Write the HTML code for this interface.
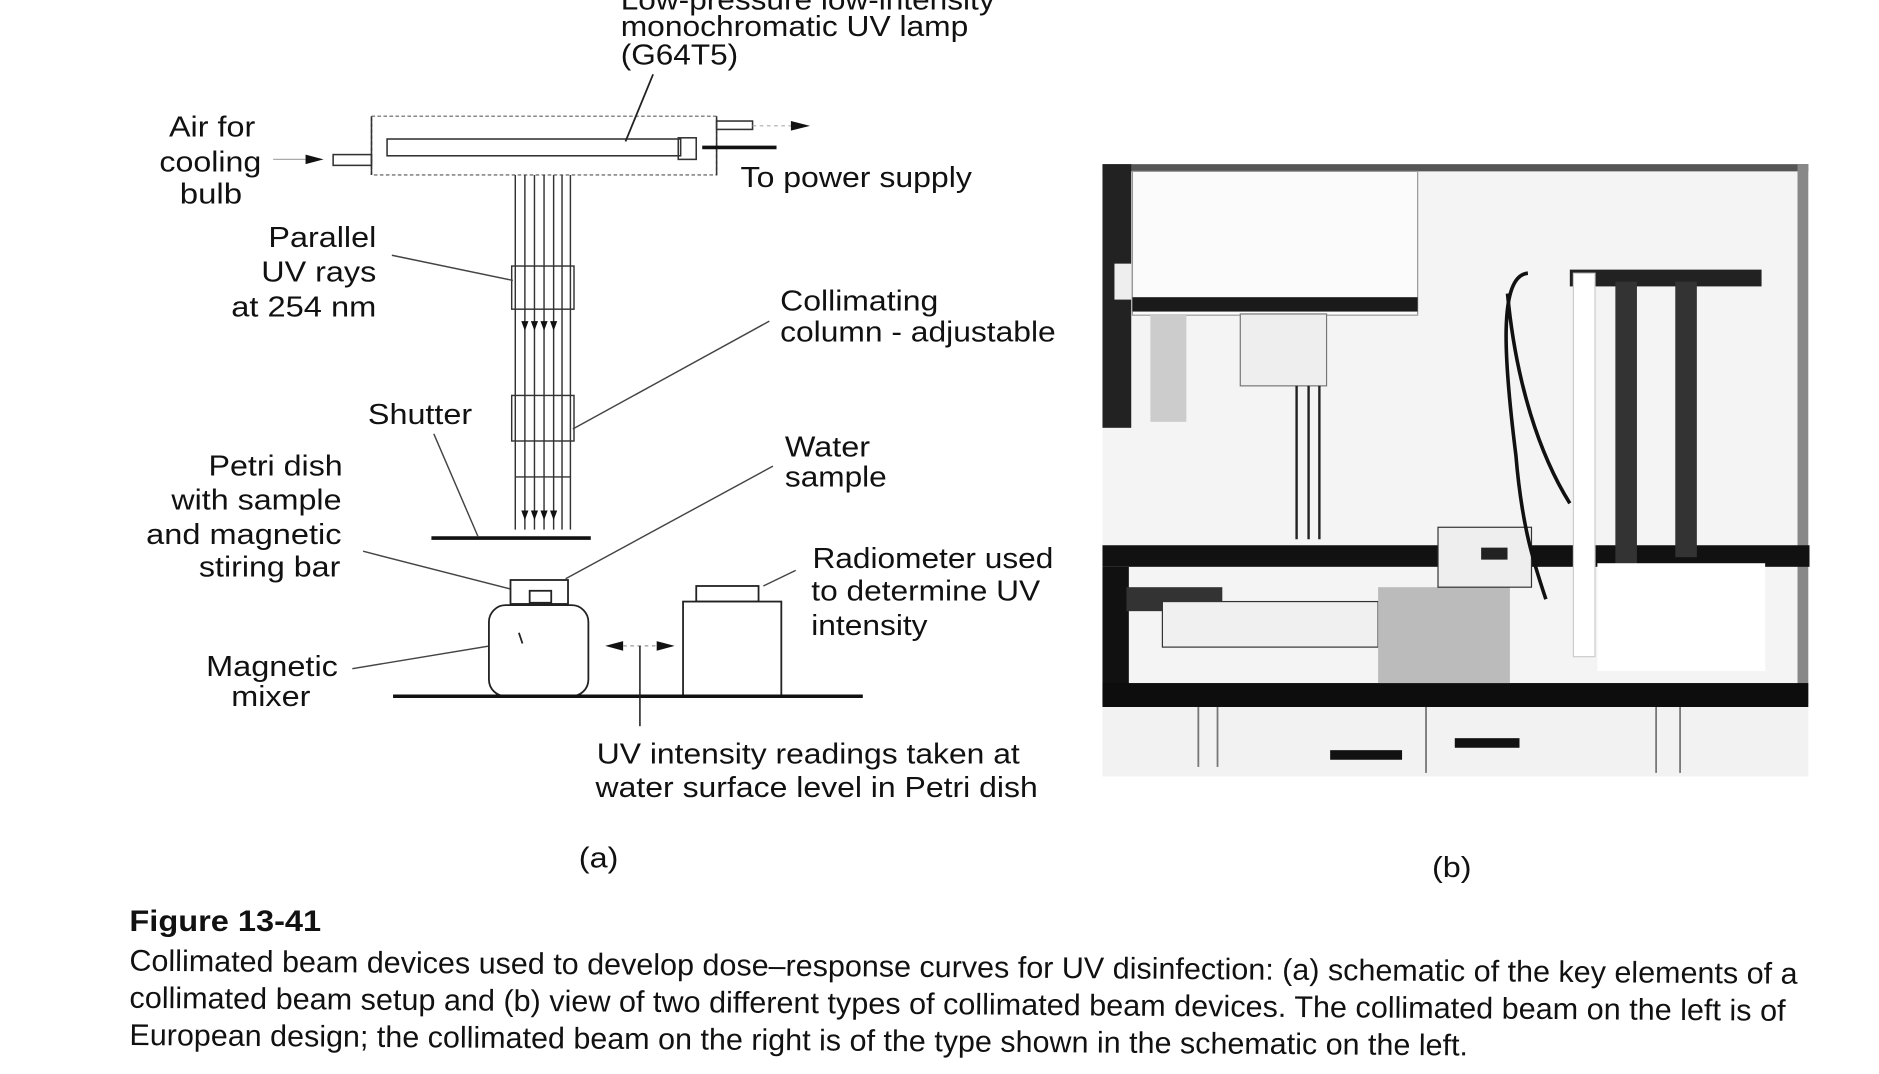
<!DOCTYPE html>
<html><head><meta charset="utf-8"><style>
html,body{margin:0;padding:0;background:#fff;}
svg{display:block;}
text{font-family:"Liberation Sans",sans-serif;fill:#111;}
</style></head><body>
<svg width="1879" height="1074" viewBox="0 0 1568 896" preserveAspectRatio="xMinYMin meet" xmlns="http://www.w3.org/2000/svg">
<g font-size="24">
<text x="518" y="8" textLength="312" lengthAdjust="spacingAndGlyphs">Low-pressure low-intensity</text>
<text x="518" y="30" textLength="290" lengthAdjust="spacingAndGlyphs">monochromatic UV lamp</text>
<text x="518" y="54" textLength="98" lengthAdjust="spacingAndGlyphs">(G64T5)</text>
<text x="141" y="114" textLength="72" lengthAdjust="spacingAndGlyphs">Air for</text>
<text x="133" y="143" textLength="85" lengthAdjust="spacingAndGlyphs">cooling</text>
<text x="150" y="170" textLength="52" lengthAdjust="spacingAndGlyphs">bulb</text>
<text x="618" y="156" textLength="193" lengthAdjust="spacingAndGlyphs">To power supply</text>
<text x="224" y="206" textLength="90" lengthAdjust="spacingAndGlyphs">Parallel</text>
<text x="218" y="235" textLength="96" lengthAdjust="spacingAndGlyphs">UV rays</text>
<text x="193" y="264" textLength="121" lengthAdjust="spacingAndGlyphs">at 254 nm</text>
<text x="651" y="259" textLength="132" lengthAdjust="spacingAndGlyphs">Collimating</text>
<text x="651" y="285" textLength="230" lengthAdjust="spacingAndGlyphs">column - adjustable</text>
<text x="307" y="354" textLength="87" lengthAdjust="spacingAndGlyphs">Shutter</text>
<text x="655" y="381" textLength="71" lengthAdjust="spacingAndGlyphs">Water</text>
<text x="655" y="406" textLength="85" lengthAdjust="spacingAndGlyphs">sample</text>
<text x="174" y="397" textLength="112" lengthAdjust="spacingAndGlyphs">Petri dish</text>
<text x="143" y="425" textLength="142" lengthAdjust="spacingAndGlyphs">with sample</text>
<text x="122" y="454" textLength="163" lengthAdjust="spacingAndGlyphs">and magnetic</text>
<text x="166" y="481" textLength="118" lengthAdjust="spacingAndGlyphs">stiring bar</text>
<text x="678" y="474" textLength="201" lengthAdjust="spacingAndGlyphs">Radiometer used</text>
<text x="677" y="501" textLength="191" lengthAdjust="spacingAndGlyphs">to determine UV</text>
<text x="677" y="530" textLength="97" lengthAdjust="spacingAndGlyphs">intensity</text>
<text x="172" y="564" textLength="110" lengthAdjust="spacingAndGlyphs">Magnetic</text>
<text x="193" y="589" textLength="66" lengthAdjust="spacingAndGlyphs">mixer</text>
<text x="498" y="637" textLength="353" lengthAdjust="spacingAndGlyphs">UV intensity readings taken at</text>
<text x="497" y="665" textLength="369" lengthAdjust="spacingAndGlyphs">water surface level in Petri dish</text>
<text x="483" y="724" textLength="33" lengthAdjust="spacingAndGlyphs">(a)</text>
<text x="1195" y="732" textLength="33" lengthAdjust="spacingAndGlyphs">(b)</text>
</g>
<g fill="none" stroke="#333" stroke-width="1.3">
<rect x="310" y="97" width="288" height="49" stroke="#888" stroke-dasharray="3 2"/>
<rect x="323" y="116" width="245" height="14"/>
<rect x="566" y="115" width="15" height="18"/>
<rect x="278" y="129" width="32" height="9"/>
<rect x="598" y="101" width="30" height="7"/>
<line x1="310" y1="97" x2="310" y2="146"/>
<line x1="598" y1="97" x2="598" y2="146"/>
</g>
<line x1="586" y1="123" x2="648" y2="123" stroke="#111" stroke-width="3"/>
<line x1="228" y1="133" x2="258" y2="133" stroke="#aaa" stroke-width="1"/>
<polygon points="255,129 270,133 255,137" fill="#111"/>
<line x1="628" y1="105" x2="660" y2="105" stroke="#aaa" stroke-width="1" stroke-dasharray="3 3"/>
<polygon points="660,101 676,105 660,109" fill="#111"/>
<line x1="545" y1="62" x2="522" y2="118" stroke="#222" stroke-width="1.5"/>
<g stroke="#333" stroke-width="1.2" fill="none">
<line x1="430" y1="146" x2="430" y2="442"/><line x1="476" y1="146" x2="476" y2="442"/>
<line x1="438" y1="146" x2="438" y2="442"/><line x1="446" y1="146" x2="446" y2="442"/>
<line x1="454" y1="146" x2="454" y2="442"/><line x1="462" y1="146" x2="462" y2="442"/>
<line x1="469" y1="146" x2="469" y2="442"/>
<rect x="427" y="222" width="52" height="36"/>
<rect x="427" y="330" width="52" height="38"/>
<line x1="430" y1="398" x2="476" y2="398"/>
</g>
<g fill="#111">
<polygon points="435,268 441,268 438,276"/><polygon points="443,268 449,268 446,276"/><polygon points="451,268 457,268 454,276"/><polygon points="459,268 465,268 462,276"/>
<polygon points="435,426 441,426 438,434"/><polygon points="443,426 449,426 446,434"/><polygon points="451,426 457,426 454,434"/><polygon points="459,426 465,426 462,434"/>
</g>
<line x1="360" y1="449" x2="493" y2="449" stroke="#111" stroke-width="3"/>
<g stroke="#444" stroke-width="1.2" fill="none">
<line x1="327" y1="213" x2="428" y2="234"/>
<line x1="642" y1="268" x2="478" y2="358"/>
<line x1="362" y1="362" x2="399" y2="448"/>
<line x1="645" y1="389" x2="472" y2="483"/>
<line x1="303" y1="460" x2="428" y2="492"/>
<line x1="294" y1="558" x2="433" y2="535"/>
<line x1="664" y1="476" x2="637" y2="489"/>
</g>
<g stroke="#222" stroke-width="1.5" fill="#fff">
<rect x="426" y="484" width="48" height="20"/>
<rect x="442" y="493" width="18" height="10"/>
<rect x="408" y="505" width="83" height="76" rx="14"/>
<rect x="581" y="489" width="52" height="13"/>
<rect x="570" y="502" width="82" height="79"/>
</g>
<line x1="433" y1="528" x2="436" y2="537" stroke="#222" stroke-width="1.5"/>
<line x1="328" y1="581" x2="720" y2="581" stroke="#111" stroke-width="3"/>
<polygon points="505,539 520,535 520,543" fill="#111"/>
<polygon points="563,539 548,535 548,543" fill="#111"/>
<line x1="520" y1="539" x2="548" y2="539" stroke="#999" stroke-dasharray="3 3"/>
<line x1="534" y1="539" x2="534" y2="606" stroke="#222" stroke-width="1.3"/>
<g>
<rect x="920" y="137" width="589" height="511" fill="#f4f4f4"/>
<rect x="920" y="137" width="589" height="6" fill="#555"/>
<rect x="1500" y="137" width="9" height="450" fill="#888"/>
<rect x="920" y="137" width="24" height="220" fill="#222"/>
<rect x="930" y="220" width="14" height="30" fill="#eee"/>
<rect x="945" y="143" width="238" height="120" fill="#fbfbfb" stroke="#999"/>
<rect x="945" y="248" width="238" height="12" fill="#1a1a1a"/>
<rect x="960" y="262" width="30" height="90" fill="#ccc"/>
<rect x="1035" y="262" width="72" height="60" fill="#eee" stroke="#777"/>
<g stroke="#222" stroke-width="2"><line x1="1082" y1="322" x2="1082" y2="450"/><line x1="1092" y1="322" x2="1092" y2="450"/><line x1="1101" y1="322" x2="1101" y2="450"/></g>
<rect x="920" y="455" width="590" height="18" fill="#111"/>
<rect x="920" y="473" width="22" height="115" fill="#111"/>
<rect x="920" y="570" width="589" height="20" fill="#0d0d0d"/>
<rect x="940" y="490" width="80" height="20" fill="#333"/>
<rect x="970" y="502" width="180" height="38" fill="#f0f0f0" stroke="#333"/>
<rect x="1150" y="490" width="110" height="80" fill="#bbb"/>
<rect x="1200" y="440" width="78" height="50" fill="#eee" stroke="#333"/>
<rect x="1236" y="457" width="22" height="10" fill="#222"/>
<rect x="1310" y="225" width="160" height="14" fill="#222"/>
<rect x="1348" y="235" width="18" height="280" fill="#333"/>
<rect x="1398" y="235" width="18" height="230" fill="#333"/>
<rect x="1313" y="228" width="18" height="320" fill="#fff" stroke="#ccc"/>
<rect x="1333" y="470" width="140" height="90" fill="#fff"/>
<path d="M1275,228 C1250,230 1255,300 1265,380 C1270,440 1280,470 1290,500" stroke="#111" stroke-width="3" fill="none"/>
<path d="M1258,245 C1265,320 1285,380 1310,420" stroke="#111" stroke-width="3" fill="none"/>
<rect x="920" y="590" width="589" height="58" fill="#f2f2f2"/>
<g stroke="#777" stroke-width="1.5"><line x1="1000" y1="590" x2="1000" y2="640"/><line x1="1016" y1="590" x2="1016" y2="640"/><line x1="1190" y1="590" x2="1190" y2="645"/><line x1="1382" y1="590" x2="1382" y2="645"/><line x1="1402" y1="590" x2="1402" y2="645"/></g>
<rect x="1110" y="626" width="60" height="8" fill="#111"/>
<rect x="1214" y="616" width="54" height="8" fill="#111"/>
</g>
<text x="108" y="777" font-size="25" font-weight="bold" textLength="160" lengthAdjust="spacingAndGlyphs">Figure 13-41</text>
<g font-size="25">
<text x="108" y="810" textLength="1392" lengthAdjust="spacingAndGlyphs" transform="rotate(0.45 108 810)">Collimated beam devices used to develop dose–response curves for UV disinfection: (a) schematic of the key elements of a</text>
<text x="108" y="841" textLength="1382" lengthAdjust="spacingAndGlyphs" transform="rotate(0.45 108 841)">collimated beam setup and (b) view of two different types of collimated beam devices. The collimated beam on the left is of</text>
<text x="108" y="872" textLength="1117" lengthAdjust="spacingAndGlyphs" transform="rotate(0.45 108 872)">European design; the collimated beam on the right is of the type shown in the schematic on the left.</text>
</g>
</svg>
</body></html>
